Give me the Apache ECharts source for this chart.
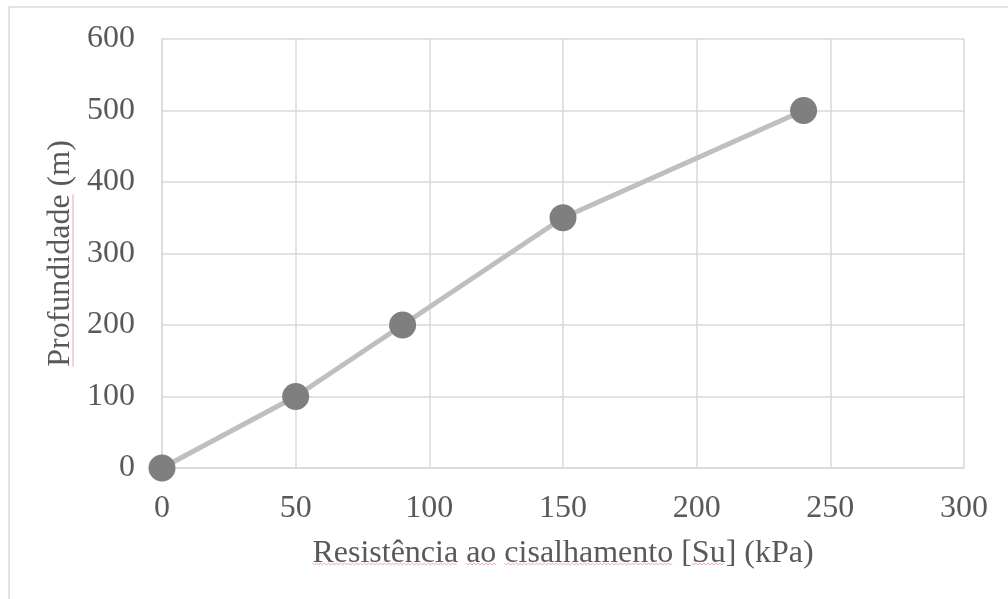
<!DOCTYPE html>
<html>
<head>
<meta charset="utf-8">
<script src="https://cdn.jsdelivr.net/npm/echarts@6/dist/echarts.min.js"></script>
<style>
  html, body { margin: 0; padding: 0; background: #ffffff; }
  #chart { width: 1008px; height: 599px; }
</style>
</head>
<body>
<div id="chart"></div>
<script>
// Undrained shear strength vs depth
const strengthKPa = [0, 50, 90, 150, 240];
const depthM = [0, 100, 200, 350, 500];
const xTicks = [0, 50, 100, 150, 200, 250, 300];
const yTicks = [0, 100, 200, 300, 400, 500, 600];

const xTitle = 'Resistência ao cisalhamento [Su] (kPa)';
const yTitle = 'Profundidade (m)';
// words flagged by the spell checker (wavy underline)
const xFlagged = ['Resistência', 'ao', 'cisalhamento', 'Su'];
const yFlagged = ['Profundidade'];

const points = strengthKPa.map((x, i) => [x, depthM[i]]);

const textColor = '#595959';
const gridColor = '#d9d9d9';
const squiggle = '#f2a5a5';
const font = '"Liberation Serif", "Times New Roman", serif';
const fontSize = 32;

const W = 1008, H = 599;
const grid = { left: 162, top: 39, right: 44, bottom: 131 };
const plotCx = grid.left + (W - grid.left - grid.right) / 2;
const plotCy = grid.top + (H - grid.top - grid.bottom) / 2;

const ctx = document.createElement('canvas').getContext('2d');
ctx.font = fontSize + 'px ' + font;
const tw = s => ctx.measureText(s).width;

// horizontal wavy underline
function wavyH(x0, x1, y) {
  const pts = [];
  let up = true;
  for (let x = x0; x <= x1; x += 2) { pts.push([x, up ? y - 0.8 : y + 0.8]); up = !up; }
  return { type: 'polyline', silent: true, shape: { points: pts },
           style: { stroke: squiggle, lineWidth: 1, fill: null } };
}
// vertical underline for the rotated title
function lineV(x, y0, y1) {
  return { type: 'line', silent: true, shape: { x1: x, y1: y0, x2: x, y2: y1 },
           style: { stroke: squiggle, lineWidth: 1 } };
}

const marks = [];
const xStart = plotCx - tw(xTitle) / 2;
xFlagged.forEach(w => {
  const i = xTitle.indexOf(w);
  const a = xStart + tw(xTitle.slice(0, i));
  marks.push(wavyH(a, a + tw(w), 564));
});
const yStart = plotCy + tw(yTitle) / 2;
yFlagged.forEach(w => {
  const i = yTitle.indexOf(w);
  const a = yStart - tw(yTitle.slice(0, i));
  marks.push(lineV(73, a - tw(w), a));
});

const chart = echarts.init(document.getElementById('chart'), null, { renderer: 'canvas' });
chart.setOption({
  animation: false,
  backgroundColor: '#ffffff',
  grid: Object.assign({ containLabel: false }, grid),
  xAxis: {
    type: 'value',
    min: xTicks[0],
    max: xTicks[xTicks.length - 1],
    interval: xTicks[1] - xTicks[0],
    name: xTitle,
    nameLocation: 'middle',
    nameGap: 70,
    nameTextStyle: { color: textColor, fontFamily: font, fontSize: fontSize },
    axisLine: { show: true, lineStyle: { color: gridColor, width: 1.5 } },
    axisTick: { show: false },
    axisLabel: { color: textColor, fontFamily: font, fontSize: fontSize, margin: 25 },
    splitLine: { show: true, lineStyle: { color: gridColor, width: 1.5 } }
  },
  yAxis: {
    type: 'value',
    min: yTicks[0],
    max: yTicks[yTicks.length - 1],
    interval: yTicks[1] - yTicks[0],
    name: yTitle,
    nameLocation: 'middle',
    nameGap: 84,
    nameRotate: 90,
    nameTextStyle: { color: textColor, fontFamily: font, fontSize: fontSize },
    axisLine: { show: true, lineStyle: { color: gridColor, width: 1.5 } },
    axisTick: { show: false },
    axisLabel: { color: textColor, fontFamily: font, fontSize: fontSize, margin: 27 },
    splitLine: { show: true, lineStyle: { color: gridColor, width: 1.5 } }
  },
  series: [{
    type: 'line',
    data: points,
    symbol: 'circle',
    symbolSize: 27,
    itemStyle: { color: '#7f7f7f' },
    lineStyle: { color: '#bfbfbf', width: 5 },
    z: 3
  }],
  graphic: [{
    type: 'rect',
    silent: true,
    shape: { x: 9, y: 7, width: 1200, height: 800 },
    style: { stroke: '#d9d9d9', lineWidth: 1.5, fill: null }
  }].concat(marks)
});
</script>
</body>
</html>
